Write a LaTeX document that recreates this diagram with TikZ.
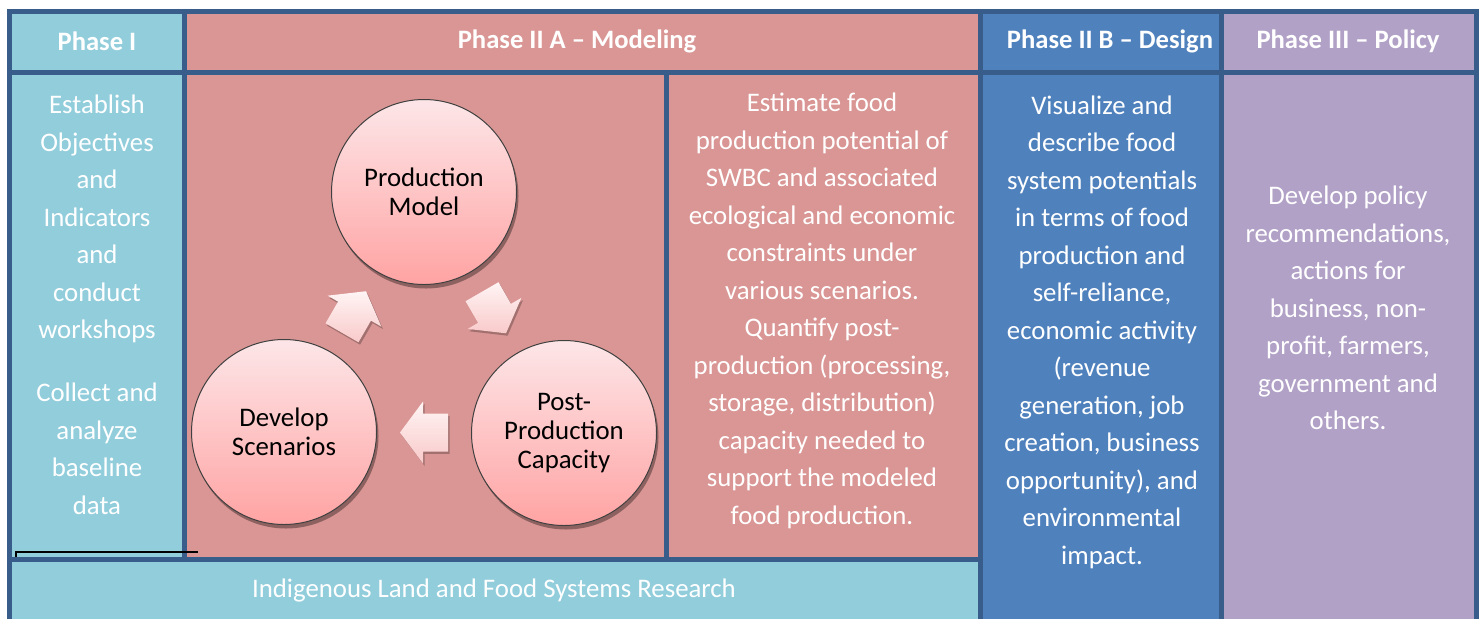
\documentclass[tikz,border=0pt]{standalone}
\usepackage{fontspec}
\setmainfont{Carlito}
\usetikzlibrary{calc,shadows}

\definecolor{frame}{HTML}{385D8A}
\definecolor{phaseone}{HTML}{92CDDC}
\definecolor{phasetwoa}{HTML}{D99694}
\definecolor{phasetwob}{HTML}{4F81BD}
\definecolor{phasethree}{HTML}{B2A1C7}
\definecolor{circtop}{HTML}{FDE6E8}
\definecolor{circbot}{HTML}{FFA3A3}
\definecolor{arrtop}{HTML}{FFF4F4}
\definecolor{arrbot}{HTML}{F9CACA}

\tikzset{
	cell/.style={draw=frame, line width=2.5pt},
	head/.style={text=white, inner sep=0, font=\fontsize{13.3}{15}\selectfont\bfseries},
	body/.style={text=white, inner sep=0, align=center, font=\fontsize{13.4}{18.75}\selectfont},
	stage/.style={circle, minimum size=92.5pt, inner sep=0, draw=black!75, line width=0.5pt,
		top color=circtop, bottom color=circbot, align=center,
		font=\fontsize{13.4}{14.7}\selectfont,
		drop shadow={shadow xshift=1pt, shadow yshift=-2pt, opacity=0.35, fill=black}},
	turn/.pic={
		\shade[top color=arrtop, bottom color=arrbot,
			drop shadow={shadow xshift=0.8pt, shadow yshift=-1.2pt, opacity=0.25, fill=black}]
			(-24,-19) -- (1,-19) -- (1,-31) -- (24,0) -- (1,31) -- (1,19) -- (-24,19) -- cycle;
	}
}

\begin{document}
\begin{tikzpicture}[x=0.5pt, y=-0.5pt]
	\useasboundingbox (0,0) rectangle (1481,618);
	\fill[white] (0,0) rectangle (1481,618);
	\clip (0,0) rectangle (1481,618);

	\draw[cell, fill=phaseone] (9.5,11) rectangle (184.5,72.5);
	\draw[cell, fill=phasetwoa] (184.5,11) rectangle (980.5,72.5);
	\draw[cell, fill=phasetwob] (980.5,11) rectangle (1221,72.5);
	\draw[cell, fill=phasethree] (1221,11) rectangle (1476,72.5);

	\draw[cell, fill=phaseone] (9.5,72.5) rectangle (184.5,559.5);
	\draw[cell, fill=phasetwoa] (184.5,72.5) rectangle (666,559.5);
	\draw[cell, fill=phasetwoa] (666,72.5) rectangle (980.5,559.5);
	\draw[cell, fill=phasetwob] (980.5,72.5) rectangle (1221,640);
	\draw[cell, fill=phasethree] (1221,72.5) rectangle (1476,640);
	\draw[cell, fill=phaseone] (9.5,559.5) rectangle (980.5,640);

	\draw[line width=1pt] (16,557) -- (16,552) -- (198,552);

	\node[head] (h1) at (97,41) {Phase I};
	\node[head] (h2) at (577,41) {Phase II A -- Modeling};
	\node[head] (h3) at (1110,41) {Phase II B -- Design};
	\node[head] (h4) at (1348,41) {Phase III -- Policy};

	\node[body] (t1) at (97,305) {Establish\\Objectives\\and\\Indicators\\and\\conduct\\workshops\\[12.75pt]
		Collect and\\analyze\\baseline\\data};
	\node[body] (t2) at (822,311) {Estimate food\\production potential of\\SWBC and associated\\ecological and economic\\
		constraints under\\various scenarios.\\Quantify post-\\production (processing,\\storage, distribution)\\
		capacity needed to\\support the modeled\\food production.};
	\node[body] (t3) at (1102,332) {Visualize and\\describe food\\system potentials\\in terms of food\\production and\\
		self-reliance,\\economic activity\\(revenue\\generation, job\\creation, business\\opportunity), and\\
		environmental\\impact.};
	\node[body] (t4) at (1348,308) {Develop policy\\recommendations,\\actions for\\business, non-\\profit, farmers,\\
		government and\\others.};
	\node[body] (t5) at (494,590) {Indigenous Land and Food Systems Research};

	\node[stage] (prod) at (424,192) {Production\\Model};
	\node[stage] (dev) at (284,432) {Develop\\Scenarios};
	\node[stage] (post) at (564,433) {Post-\\Production\\Capacity};

	\pic[rotate=60] at ($(dev)!0.5!(prod)$) {turn};
	\pic[rotate=-60] at ($(prod)!0.5!(post)$) {turn};
	\pic[rotate=180] at ($(post)!0.5!(dev)$) {turn};
\end{tikzpicture}
\end{document}
